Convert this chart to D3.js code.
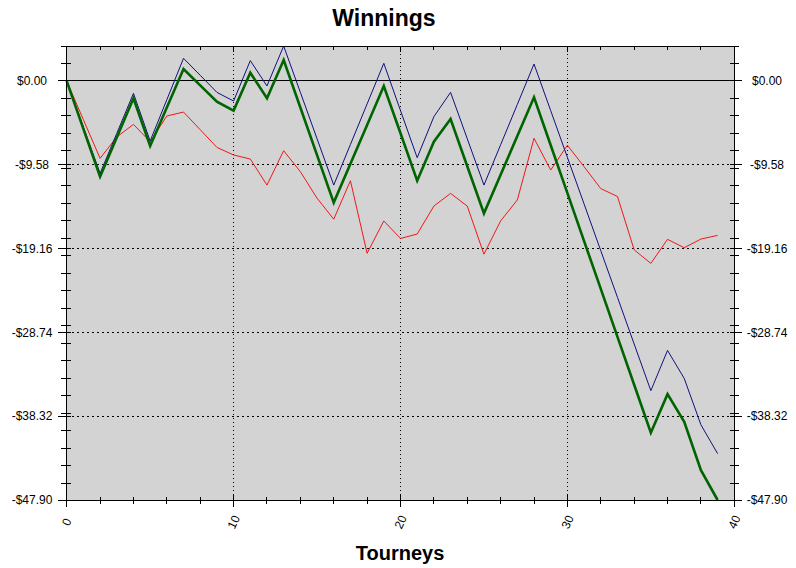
<!DOCTYPE html>
<html>
<head>
<meta charset="utf-8">
<script src="https://cdn.jsdelivr.net/npm/d3@7"></script>
<style>
  html, body { margin: 0; padding: 0; background: #ffffff; }
  svg { display: block; font-family: Arial, "Liberation Sans", sans-serif; }
</style>
</head>
<body>
<svg id="chart" width="796" height="568"></svg>
<script>
// ---- data ----
const tourneys = d3.range(0, 40);
const greenSeries = [0, -5.47, -10.94, -6.46, -1.98, -7.43, -3.03, 1.37, -0.5, -2.37,
  -3.39, 0.95, -1.98, 2.40, -3.03, -8.47, -13.9, -9.46, -5.02, -0.57,
  -5.98, -11.4, -6.94, -4.35, -9.74, -15.13, -10.71, -6.29, -1.87, -7.35,
  -12.82, -18.3, -23.77, -29.25, -34.73, -40.2, -35.8, -38.96, -44.5, -47.9];
const blueSeries = [0, -5.28, -10.56, -5.99, -1.41, -6.86, -2.14, 2.59, 0.65, -1.30,
  -2.29, 2.33, -0.57, 4.0, -1.3, -6.6, -11.9, -7.26, -2.62, 2.02,
  -3.38, -8.77, -4.08, -1.30, -6.6, -11.9, -7.29, -2.68, 1.94, -3.39,
  -8.73, -14.06, -19.4, -24.73, -30.07, -35.4, -30.8, -34.0, -39.3, -42.6];
const redSeries = [0, -4.42, -8.84, -6.4, -4.96, -6.94, -4.0, -3.55, -5.57, -7.59,
  -8.46, -8.92, -11.9, -7.97, -10.37, -13.4, -15.8, -11.4, -19.7, -16.0,
  -18.0, -17.5, -14.3, -12.85, -14.3, -19.8, -16.0, -13.6, -6.55, -10.18,
  -7.35, -9.8, -12.3, -13.2, -19.3, -20.85, -18.1, -19.06, -18.07, -17.65];
const yMajorTicks = [0, -9.58, -19.16, -28.74, -38.32, -47.9];
const yTickLabels = ["$0.00", "-$9.58", "-$19.16", "-$28.74", "-$38.32", "-$47.90"];
const yMinorTicks = d3.range(4, -48, -2);
const xMajorTicks = [0, 10, 20, 30, 40];
const xMinorTicks = d3.range(0, 41, 2);
const yDomain = [-47.9, 4.0];
const xDomain = [0, 40];

// ---- layout ----
const svg = d3.select("#chart");
const L = 66.7, R = 734.3, T = 46, B = 500;
const x = d3.scaleLinear().domain(xDomain).range([L, R]);
const y = d3.scaleLinear().domain(yDomain).range([B, T]);

// plot background
svg.append("rect").attr("x", L).attr("y", T).attr("width", R - L).attr("height", B - T)
  .attr("fill", "#d3d3d3");

// grid lines
svg.append("g").selectAll("line").data(yMajorTicks.filter(v => v !== 0 && v !== yDomain[0]))
  .join("line")
  .attr("x1", L).attr("x2", R).attr("y1", d => y(d)).attr("y2", d => y(d))
  .attr("stroke", "#000").attr("stroke-width", 1).attr("stroke-dasharray", "2,3")
  .attr("shape-rendering", "crispEdges");
svg.append("g").selectAll("line").data(xMajorTicks.filter(v => v > 0 && v < 40))
  .join("line")
  .attr("x1", d => x(d)).attr("x2", d => x(d)).attr("y1", T).attr("y2", B)
  .attr("stroke", "#000").attr("stroke-width", 1).attr("stroke-dasharray", "1,3")
  .attr("shape-rendering", "crispEdges");

// zero line
svg.append("line").attr("x1", L).attr("x2", R).attr("y1", y(0)).attr("y2", y(0))
  .attr("stroke", "#000").attr("stroke-width", 1).attr("shape-rendering", "crispEdges");

// series
const line = d3.line().x((d, i) => x(tourneys[i])).y(d => y(d));
svg.append("path").datum(redSeries).attr("d", line)
  .attr("fill", "none").attr("stroke", "#f01818").attr("stroke-width", 1);
svg.append("path").datum(blueSeries).attr("d", line)
  .attr("fill", "none").attr("stroke", "#10107e").attr("stroke-width", 1);
svg.append("path").datum(greenSeries).attr("d", line)
  .attr("fill", "none").attr("stroke", "#006400").attr("stroke-width", 2.6)
  .attr("stroke-linejoin", "miter");

// axis frame
const frame = svg.append("g").attr("stroke", "#000").attr("stroke-width", 1)
  .attr("shape-rendering", "crispEdges");
frame.append("line").attr("x1", L).attr("x2", L).attr("y1", T).attr("y2", B + 1);
frame.append("line").attr("x1", R).attr("x2", R).attr("y1", T).attr("y2", B + 1);
frame.append("line").attr("x1", L).attr("x2", R).attr("y1", T).attr("y2", T);
frame.append("line").attr("x1", L).attr("x2", R).attr("y1", B).attr("y2", B);

// left axis ticks
const tk = svg.append("g").attr("stroke", "#000").attr("stroke-width", 1)
  .attr("shape-rendering", "crispEdges");
tk.selectAll(".lmin").data(yMinorTicks).join("line")
  .attr("x1", L - 6).attr("x2", L + 4).attr("y1", d => y(d)).attr("y2", d => y(d));
tk.selectAll(".lmaj").data(yMajorTicks).join("line")
  .attr("x1", L - 9).attr("x2", L + 4).attr("y1", d => y(d)).attr("y2", d => y(d));
// right axis ticks
tk.selectAll(".rmin").data(yMinorTicks).join("line")
  .attr("x1", R - 4).attr("x2", R + 5).attr("y1", d => y(d)).attr("y2", d => y(d));
tk.selectAll(".rmaj").data(yMajorTicks).join("line")
  .attr("x1", R - 4).attr("x2", R + 8).attr("y1", d => y(d)).attr("y2", d => y(d));
// bottom ticks
tk.selectAll(".bmin").data(xMinorTicks).join("line")
  .attr("x1", d => x(d)).attr("x2", d => x(d)).attr("y1", B - 3).attr("y2", B + 4);
tk.selectAll(".bmaj").data(xMajorTicks).join("line")
  .attr("x1", d => x(d)).attr("x2", d => x(d)).attr("y1", B - 5).attr("y2", B + 7);
// top ticks
tk.selectAll(".tmin").data(xMinorTicks).join("line")
  .attr("x1", d => x(d)).attr("x2", d => x(d)).attr("y1", T).attr("y2", T + 4);
tk.selectAll(".tmaj").data(xMajorTicks).join("line")
  .attr("x1", d => x(d)).attr("x2", d => x(d)).attr("y1", T).attr("y2", T + 6);

// y labels
svg.append("g").selectAll("text").data(yMajorTicks).join("text")
  .attr("x", 32).attr("y", d => y(d)).attr("dy", "0.35em")
  .attr("text-anchor", "middle").attr("font-size", 12).attr("fill", "#000")
  .text((d, i) => yTickLabels[i]);
svg.append("g").selectAll("text").data(yMajorTicks).join("text")
  .attr("x", 767).attr("y", d => y(d)).attr("dy", "0.35em")
  .attr("text-anchor", "middle").attr("font-size", 12).attr("fill", "#000")
  .text((d, i) => yTickLabels[i]);

// x labels (rotated)
svg.append("g").selectAll("text").data(xMajorTicks).join("text")
  .attr("transform", d => `translate(${x(d)},${B + 22}) rotate(-65)`)
  .attr("text-anchor", "middle").attr("dy", "0.35em")
  .attr("font-size", 12).attr("fill", "#000")
  .text(d => d);

// titles
svg.append("text").attr("x", 384).attr("y", 26).attr("text-anchor", "middle")
  .attr("font-size", 23).attr("font-weight", "bold").attr("fill", "#000").text("Winnings");
svg.append("text").attr("x", 400).attr("y", 560).attr("text-anchor", "middle")
  .attr("font-size", 20).attr("font-weight", "bold").attr("fill", "#000").text("Tourneys");
</script>
</body>
</html>
